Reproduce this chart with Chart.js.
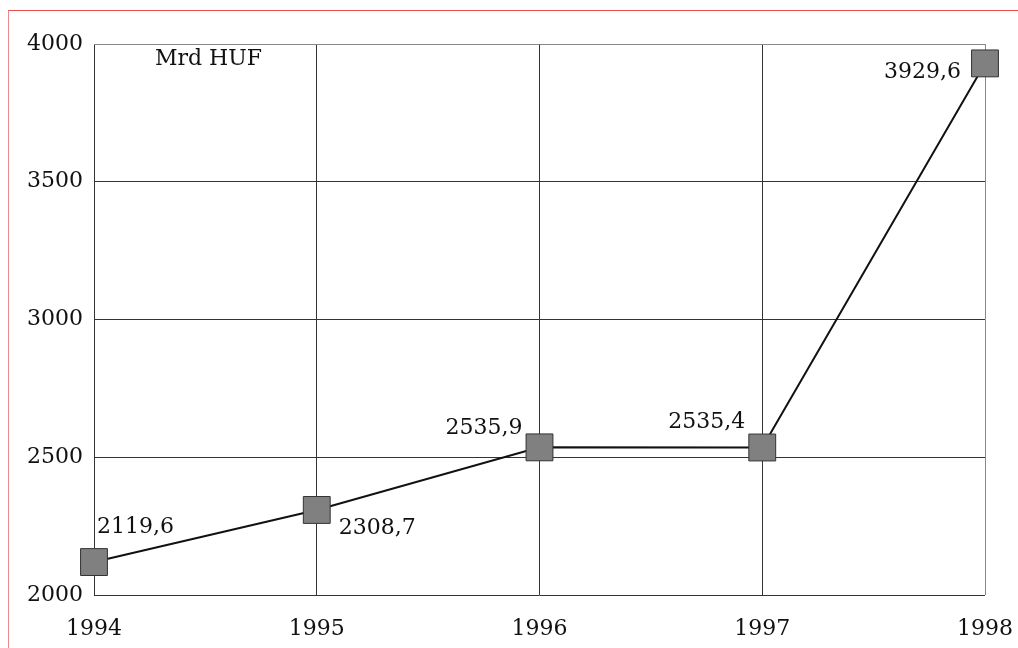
<!DOCTYPE html>
<html>
<head>
<meta charset="utf-8">
<script src="https://cdn.jsdelivr.net/npm/chart.js@4.4.0/dist/chart.umd.min.js"></script>
<style>
  html, body { margin: 0; padding: 0; background: #fff; overflow: hidden; }
  #wrap { position: relative; width: 1018px; height: 648px; }
  #frame { position: absolute; left: 8px; top: 10px; width: 1200px; height: 800px;
           border-top: 1px solid #e85050; border-left: 1px solid #e88a8a; }
  canvas { position: absolute; left: 0; top: 0; }
</style>
</head>
<body>
<div id="wrap">
  <div id="frame"></div>
  <canvas id="myChart" width="1018" height="648"></canvas>
</div>
<script>
const years = ['1994', '1995', '1996', '1997', '1998'];
const values = [2119.6, 2308.7, 2535.9, 2535.4, 3929.6];
const valueLabels = ['2119,6', '2308,7', '2535,9', '2535,4', '3929,6'];
const yTicks = [2000, 2500, 3000, 3500, 4000];
const unitLabel = 'Mrd HUF';

const FONT = '"DejaVu Serif", "Liberation Serif", serif';

// where each value label sits relative to its marker
const labelPos = [
    { dx: 3, dy: -35, align: 'left' },
    { dx: 22, dy: 18, align: 'left' },
    { dx: -17, dy: -19, align: 'right' },
    { dx: -17, dy: -25, align: 'right' },
    { dx: -24, dy: 9, align: 'right' }
];

const labelPlugin = {
    id: 'valueLabels',
    afterDatasetsDraw(chart) {
        const ctx = chart.ctx;
        const meta = chart.getDatasetMeta(0);
        ctx.save();
        ctx.font = '22px ' + FONT;
        ctx.fillStyle = '#111';
        ctx.textBaseline = 'middle';
        meta.data.forEach((pt, i) => {
            const p = labelPos[i];
            ctx.textAlign = p.align;
            ctx.fillText(valueLabels[i], pt.x + p.dx, pt.y + p.dy);
        });
        ctx.textAlign = 'left';
        ctx.fillText(unitLabel, chart.chartArea.left + 61, chart.chartArea.top + 15);
        ctx.restore();
    }
};

const ctx = document.getElementById('myChart').getContext('2d');
const myChart = new Chart(ctx, {
    type: 'line',
    data: {
        labels: years,
        datasets: [{
            data: values,
            borderColor: '#111',
            borderWidth: 2,
            tension: 0,
            pointStyle: 'rect',
            pointRadius: 19,
            pointHoverRadius: 19,
            pointBackgroundColor: '#808080',
            pointBorderColor: '#333',
            pointBorderWidth: 1
        }]
    },
    options: {
        responsive: false,
        animation: false,
        layout: { padding: { top: 44, right: 33, left: 0, bottom: 0 } },
        plugins: {
            legend: { display: false },
            tooltip: { enabled: false }
        },
        scales: {
            x: {
                offset: false,
                afterFit: s => { s.height = 53; s.paddingLeft = 0; s.paddingRight = 0; },
                border: { display: false },
                grid: {
                    drawTicks: false,
                    color: c => c.index === years.length - 1 ? '#888' : '#333',
                    lineWidth: 1
                },
                ticks: {
                    padding: 21,
                    color: '#111',
                    font: { family: FONT, size: 22 },
                    maxRotation: 0
                }
            },
            y: {
                min: 2000,
                max: 4000,
                afterFit: s => { s.width = 94; s.paddingTop = 0; s.paddingBottom = 0; },
                afterBuildTicks: s => { s.ticks = yTicks.map(v => ({ value: v })); },
                border: { display: false },
                grid: {
                    drawTicks: false,
                    color: c => c.tick && c.tick.value === 4000 ? '#888' : '#333',
                    lineWidth: 1
                },
                ticks: {
                    padding: 11,
                    color: '#111',
                    font: { family: FONT, size: 22 },
                    callback: v => String(v)
                }
            }
        }
    },
    plugins: [labelPlugin]
});
</script>
</body>
</html>
